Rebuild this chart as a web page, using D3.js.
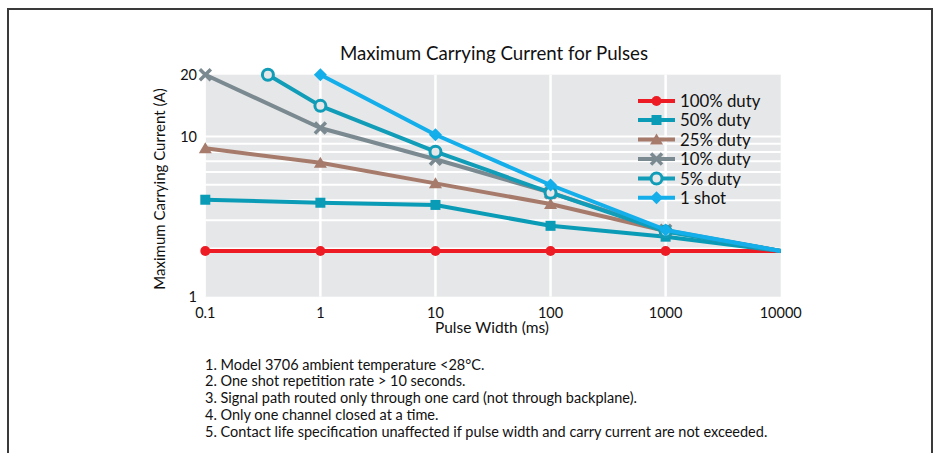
<!DOCTYPE html>
<html><head><meta charset="utf-8">
<script src="https://cdn.jsdelivr.net/npm/d3@7"></script>
<style>body{margin:0;background:#fff}svg{display:block}text{font-family:Lato,"Open Sans",sans-serif;fill:#111}</style>
</head><body><svg id="c" width="939" height="453"></svg>
<script>
const xTicks = [0.1, 1, 10, 100, 1000, 10000];
const xTickLabels = ["0.1", "1", "10", "100", "1000", "10000"];
const yTicks = [1, 10, 20];
const yTickLabels = ["1", "10", "20"];
const yGrid = [2, 3, 4, 5, 6, 7, 8, 9, 10];
const seriesNames = ["100% duty", "50% duty", "25% duty", "10% duty", "5% duty", "1 shot"];
const widthsStd = [0.1, 1, 10, 100, 1000, 10000];
const widths5 = [0.35, 1, 10, 100, 1000, 10000];
const widthsShot = [1, 10, 100, 1000, 10000];
const duty100 = [1.93, 1.93, 1.93, 1.93, 1.93, 1.93];
const duty50 = [4.03, 3.86, 3.74, 2.77, 2.37, 1.93];
const duty25 = [8.44, 6.86, 5.10, 3.79, 2.57, 1.93];
const duty10 = [20, 11.0, 7.21, 4.46, 2.60, 1.93];
const duty5 = [20, 14.1, 8.04, 4.46, 2.55, 1.93];
const oneShot = [20, 10.2, 4.98, 2.61, 1.93];
const notes = [
  "1. Model 3706 ambient temperature <28°C.",
  "2. One shot repetition rate > 10 seconds.",
  "3. Signal path routed only through one card (not through backplane).",
  "4. Only one channel closed at a time.",
  "5. Contact life specification unaffected if pulse width and carry current are not exceeded."
];

const svg = d3.select("#c");
const x = d3.scaleLog().domain([0.1, 10000]).range([205.3, 780.7]);
const y = d3.scaleLog().domain([1, 10, 20]).range([296.7, 136.5, 74.7]);

// frame
svg.append("path").attr("d", "M8,453 L8,9 L932,9 L932,453")
  .attr("fill", "none").attr("stroke", "#3a3a3a").attr("stroke-width", 2);

// plot background
svg.append("rect").attr("x", x(0.1)).attr("y", y(20)).attr("width", x(10000) - x(0.1))
  .attr("height", y(1) - y(20)).attr("fill", "#e6e7e8");

// grid
svg.append("g").selectAll("line").data(yGrid).join("line")
  .attr("x1", x(0.1)).attr("x2", x(10000)).attr("y1", d => y(d)).attr("y2", d => y(d))
  .attr("stroke", "#fff").attr("stroke-width", 2);
svg.append("g").selectAll("line").data(xTicks.slice(1, -1)).join("line")
  .attr("x1", d => x(d)).attr("x2", d => x(d)).attr("y1", y(20)).attr("y2", y(1))
  .attr("stroke", "#fff").attr("stroke-width", 2.5);
svg.append("line").attr("x1", x(0.1)).attr("x2", x(0.1)).attr("y1", y(20)).attr("y2", y(1))
  .attr("stroke", "#fff").attr("stroke-width", 1);

// axes labels
svg.append("g").selectAll("text").data(xTicks).join("text")
  .attr("x", d => x(d)).attr("y", 318).attr("text-anchor", "middle")
  .attr("font-size", 14.5).text((d, i) => xTickLabels[i]);
svg.append("g").selectAll("text").data(yTicks).join("text")
  .attr("x", 197).attr("y", d => y(d) + 5).attr("text-anchor", "end")
  .attr("font-size", 14.5).text((d, i) => yTickLabels[i]);
svg.append("text").attr("x", 492).attr("y", 333).attr("text-anchor", "middle")
  .attr("font-size", 15.5).text("Pulse Width (ms)");
svg.append("text").attr("transform", "translate(165,189) rotate(-90)").attr("text-anchor", "middle")
  .attr("font-size", 15).text("Maximum Carrying Current (A)");
svg.append("text").attr("x", 494).attr("y", 60).attr("text-anchor", "middle")
  .attr("font-size", 18.7).text("Maximum Carrying Current for Pulses");

// series
const colors = ["#ed1c24", "#0a9bb6", "#a67b6c", "#7a8a90", "#119cb7", "#14aeea"];
const shapes = ["circle", "square", "triangle", "x", "ring", "diamond"];
const data = [
  [widthsStd, duty100], [widthsStd, duty50], [widthsStd, duty25],
  [widthsStd, duty10], [widths5, duty5], [widthsShot, oneShot]
].map(([xs, ys]) => xs.map((v, i) => [v, ys[i]]));

function marker(g, shape, color, cx, cy) {
  if (shape === "circle") g.append("circle").attr("cx", cx).attr("cy", cy).attr("r", 5).attr("fill", color);
  else if (shape === "square") g.append("rect").attr("x", cx - 5).attr("y", cy - 5).attr("width", 10).attr("height", 10).attr("fill", color);
  else if (shape === "triangle") g.append("path").attr("d", `M${cx},${cy-6}L${cx+6.5},${cy+5}L${cx-6.5},${cy+5}Z`).attr("fill", color);
  else if (shape === "x") g.append("path").attr("d", `M${cx-5.5},${cy-5.5}L${cx+5.5},${cy+5.5}M${cx+5.5},${cy-5.5}L${cx-5.5},${cy+5.5}`).attr("stroke", color).attr("stroke-width", 3.5);
  else if (shape === "ring") g.append("circle").attr("cx", cx).attr("cy", cy).attr("r", 5.5).attr("fill", "#e6e7e8").attr("stroke", color).attr("stroke-width", 3);
  else if (shape === "diamond") g.append("path").attr("d", `M${cx},${cy-6.5}L${cx+6.5},${cy}L${cx},${cy+6.5}L${cx-6.5},${cy}Z`).attr("fill", color);
}

const line = d3.line().x(d => x(d[0])).y(d => y(d[1]));
data.forEach((pts, k) => {
  const g = svg.append("g");
  g.append("path").attr("d", line(pts)).attr("fill", "none").attr("stroke", colors[k])
    .attr("stroke-width", 4).attr("stroke-linejoin", "round");
  pts.slice(0, -1).forEach(p => marker(g, shapes[k], colors[k], x(p[0]), y(p[1])));
});

// legend
const legRows = [101, 120, 139.5, 159, 178.5, 197.7];
seriesNames.forEach((name, k) => {
  const g = svg.append("g");
  const ly = legRows[k];
  g.append("line").attr("x1", 638).attr("x2", 675).attr("y1", ly).attr("y2", ly)
    .attr("stroke", colors[k]).attr("stroke-width", 4);
  marker(g, shapes[k], colors[k], 656.5, ly);
  g.append("text").attr("x", 680).attr("y", ly + 6).attr("font-size", 16.8).text(name);
});

// notes
svg.append("g").selectAll("text").data(notes).join("text")
  .attr("x", 205).attr("y", (d, i) => 369.5 + i * 16.8).attr("font-size", 14.5).text(d => d);
</script></body></html>
